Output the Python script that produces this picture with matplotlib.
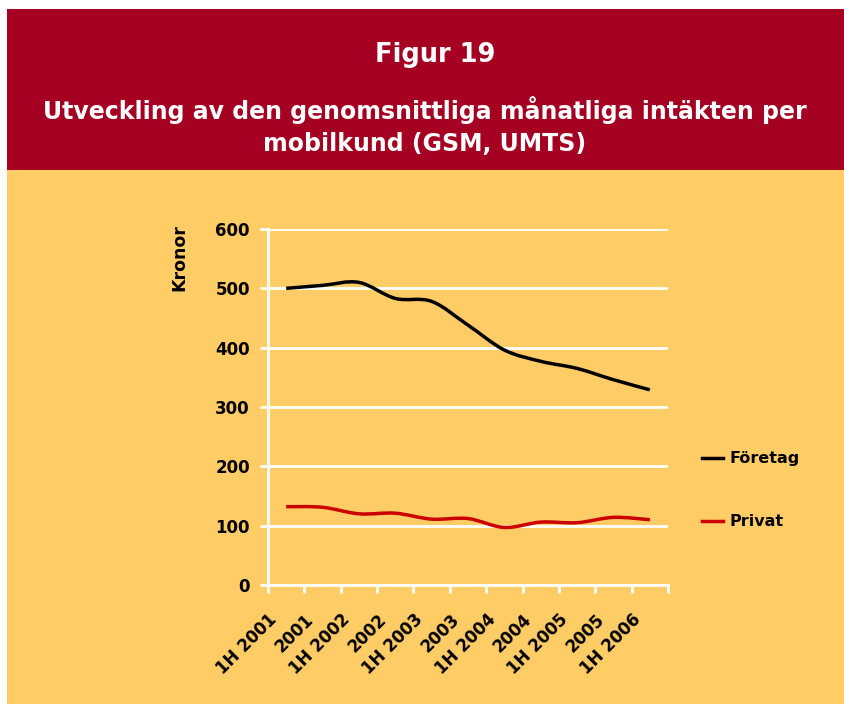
import matplotlib.pyplot as plt
from matplotlib.path import Path
from matplotlib.patches import PathPatch, Rectangle
from matplotlib.lines import Line2D
from matplotlib.transforms import ScaledTranslation

periods = ["1H 2001", "2001", "1H 2002", "2002", "1H 2003", "2003",
           "1H 2004", "2004", "1H 2005", "2005", "1H 2006"]
foretag = [500, 505, 510, 483, 478, 438, 396, 377, 365, 346, 329]
privat = [132, 131, 120, 121, 111, 112, 97, 106, 105, 114, 110]
yticks = [0, 100, 200, 300, 400, 500, 600]

RED = "#A50021"
ORANGE = "#FFCC66"

plt.rcParams['font.family'] = ['DejaVu Sans']
plt.rcParams['font.weight'] = 'bold'


def smooth_path(xs, ys, t=1/6):
    # bezier segments like a spreadsheet "smoothed line"
    verts = [(xs[0], ys[0])]
    codes = [Path.MOVETO]
    n = len(xs)
    for i in range(n - 1):
        x0, y0 = xs[max(i - 1, 0)], ys[max(i - 1, 0)]
        x1, y1 = xs[i], ys[i]
        x2, y2 = xs[i + 1], ys[i + 1]
        x3, y3 = xs[min(i + 2, n - 1)], ys[min(i + 2, n - 1)]
        c1 = (x1 + (x2 - x0) * t, y1 + (y2 - y0) * t)
        c2 = (x2 - (x3 - x1) * t, y2 - (y3 - y1) * t)
        verts += [c1, c2, (x2, y2)]
        codes += [Path.CURVE4] * 3
    return Path(verts, codes)


fig = plt.figure(figsize=(8.45, 7.04), dpi=100)
fig.patch.set_facecolor("white")
fig.patches.append(Rectangle((7 / 845, 0), 1, 1 - 170 / 704, transform=fig.transFigure,
                             facecolor=ORANGE, edgecolor="none", zorder=-2))
fig.patches.append(Rectangle((7 / 845, 1 - 170 / 704), 1, 161 / 704, transform=fig.transFigure,
                             facecolor=RED, edgecolor="none", zorder=-2))

fig.text(0.515, 1 - 55 / 704, "Figur 19", color="white", fontsize=18.5,
         ha="center", va="center")
fig.text(0.503, 1 - 126 / 704,
         "Utveckling av den genomsnittliga månatliga intäkten per\nmobilkund (GSM, UMTS)",
         color="white", fontsize=17, ha="center", va="center", linespacing=1.45)

ax = fig.add_axes([268 / 845, 1 - 585 / 704, 400 / 845, 356 / 704])
ax.set_facecolor(ORANGE)
ax.patch.set_alpha(0)

x = list(range(len(periods)))
ax.add_patch(PathPatch(smooth_path(x, foretag), facecolor="none", edgecolor="black",
                       lw=2.5, capstyle="butt", zorder=3))
ax.add_patch(PathPatch(smooth_path(x, privat), facecolor="none", edgecolor="#CC0000",
                       lw=2.5, capstyle="butt", zorder=3))

ax.set_xlim(-0.5, len(periods) - 0.5)
ax.set_ylim(0, 600)
ax.set_yticks(yticks)
ax.set_yticklabels([str(v) for v in yticks], fontsize=12)
ax.grid(axis="y", color="white", lw=2)
ax.set_axisbelow(True)

ax.set_xticks([i - 0.5 for i in range(len(periods) + 1)])
ax.set_xticklabels([])
ax.set_xticks(x, minor=True)
ax.set_xticklabels(periods, minor=True, rotation=45, ha="right",
                   rotation_mode="anchor", fontsize=12)
ax.tick_params(axis="x", which="minor", length=0, pad=14)
ax.tick_params(axis="x", which="major", length=6, width=2, color="white")
ax.tick_params(axis="y", length=6, width=2, color="white", pad=7)
shift = ScaledTranslation(-0.18, -0.06, fig.dpi_scale_trans)
for lab in ax.get_xticklabels(minor=True):
    lab.set_transform(lab.get_transform() + shift)

for s in ["top", "right"]:
    ax.spines[s].set_visible(False)
for s in ["left", "bottom"]:
    ax.spines[s].set_color("white")
    ax.spines[s].set_linewidth(2)

ax.set_ylabel("Kronor", fontsize=12.5, fontweight="bold")
ax.yaxis.set_label_coords(-0.2, 0.92)

handles = [Line2D([], [], color="black", lw=2.5), Line2D([], [], color="#CC0000", lw=2.5)]
fig.legend(handles, ["Företag", "Privat"], loc="upper left",
           bbox_to_anchor=(688 / 845, 1 - 437 / 704), frameon=False, fontsize=11.5,
           handlelength=1.3, handletextpad=0.4, labelspacing=3.0)

fig.savefig("out.png", dpi=100, facecolor=fig.get_facecolor())
